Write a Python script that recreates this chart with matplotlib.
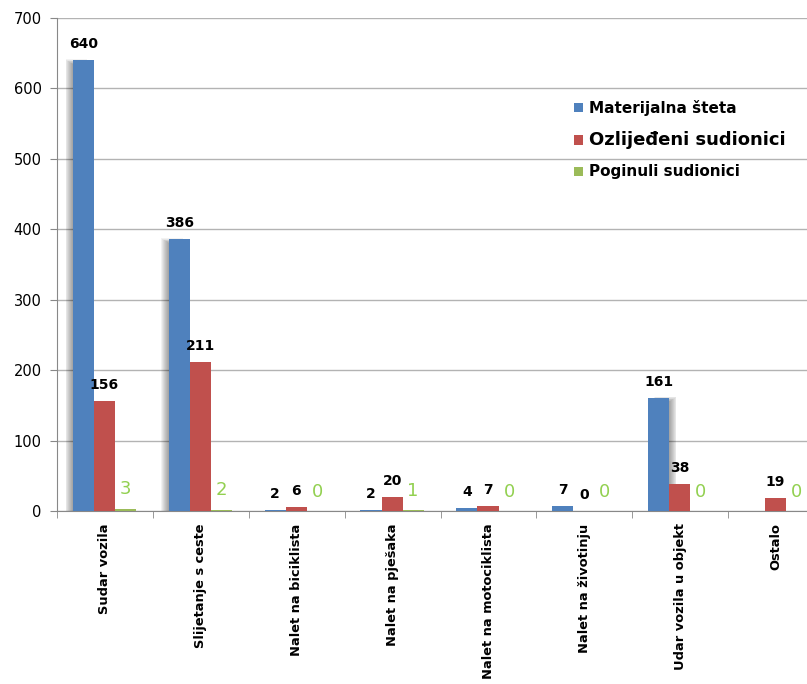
import numpy as np
import matplotlib
matplotlib.use("Agg")
import matplotlib.pyplot as plt
from matplotlib.patches import Rectangle

categories = ["Sudar vozila", "Slijetanje s ceste", "Nalet na biciklista",
              "Nalet na pješaka", "Nalet na motociklista", "Nalet na životinju",
              "Udar vozila u objekt", "Ostalo"]
materijalna = [640, 386, 2, 2, 4, 7, 161, None]
ozlijedeni = [156, 211, 6, 20, 7, 0, 38, 19]
poginuli = [3, 2, 0, 1, 0, 0, 0, 0]
series_names = ["Materijalna šteta", "Ozlijeđeni sudionici", "Poginuli sudionici"]

BLUE = "#4f81bd"
RED = "#c0504d"
GREEN = "#9bbb59"
LABEL_GREEN = "#92d050"

fig = plt.figure(figsize=(8.07, 6.84), dpi=100)
# plot area runs past the right edge of the picture, as in the original
ax = fig.add_axes([57 / 807, 1 - 511 / 684, 767 / 807, 493 / 684])

x = np.arange(len(categories))
w = 0.22
offs = [-w, 0.0, w]
shift = -0.005

series = [materijalna, ozlijedeni, poginuli]
colors = [BLUE, RED, GREEN]
for vals, off, col, name in zip(series, offs, colors, series_names):
    h = [v if v is not None else 0 for v in vals]
    ax.bar(x + off + shift, h, w, color=col, zorder=3, label=name)

# soft shadow beside the tall blue bars
shadow_side = {0: -1, 1: -1, 6: 1}
for i, side in shadow_side.items():
    v = materijalna[i]
    x0 = x[i] - w + shift - w / 2
    for k in range(1, 9):
        d = k * 0.0095
        ax.add_patch(Rectangle((x0 + side * d, 0), w, v - 6 + k * 0.9,
                               color="black", alpha=0.05, lw=0, zorder=2))

# value labels
for vals, off, col in zip(series[:2], offs[:2], colors[:2]):
    for xi, v in zip(x, vals):
        if v is None:
            continue
        ax.annotate(str(v), (xi + off + shift, v), xytext=(0, 11.5),
                    textcoords="offset points", ha="center", va="center",
                    fontsize=10, fontweight="bold", color="black", zorder=5)
for xi, v in zip(x, poginuli):
    ax.annotate(str(v), (xi + offs[2] + shift, v), xytext=(0, 14),
                textcoords="offset points", ha="center", va="center",
                fontsize=13, color=LABEL_GREEN, zorder=5)

ax.set_xlim(-0.5, len(categories) - 0.5)
ax.set_ylim(0, 700)
ax.set_yticks(np.arange(0, 701, 100))
ax.yaxis.grid(True, color="#b3b3b3", lw=1, zorder=0)
ax.set_axisbelow(True)

ax.set_xticks(x)
ax.set_xticklabels(categories, rotation=90, fontsize=9.4, fontweight="bold", va="top")
ax.set_xticks(np.arange(-0.5, len(categories), 1), minor=True)
ax.tick_params(axis="x", which="major", length=0, pad=9)
ax.tick_params(axis="x", which="minor", length=5, color="#888888", direction="out")
ax.tick_params(axis="y", length=5, color="#888888", labelsize=10.5, pad=6)

for s in ["top", "right"]:
    ax.spines[s].set_visible(False)
for s in ["left", "bottom"]:
    ax.spines[s].set_color("#888888")

leg = ax.legend(loc="upper left", bbox_to_anchor=(568 / 807, 1 - 94 / 684),
                bbox_transform=fig.transFigure, frameon=False,
                handlelength=0.65, handleheight=0.65, handletextpad=0.45,
                labelspacing=1.1, borderaxespad=0)
for t, fs in zip(leg.get_texts(), [11, 13, 11]):
    t.set_fontsize(fs)
    t.set_fontweight("bold")

fig.savefig("out.png", dpi=100)
